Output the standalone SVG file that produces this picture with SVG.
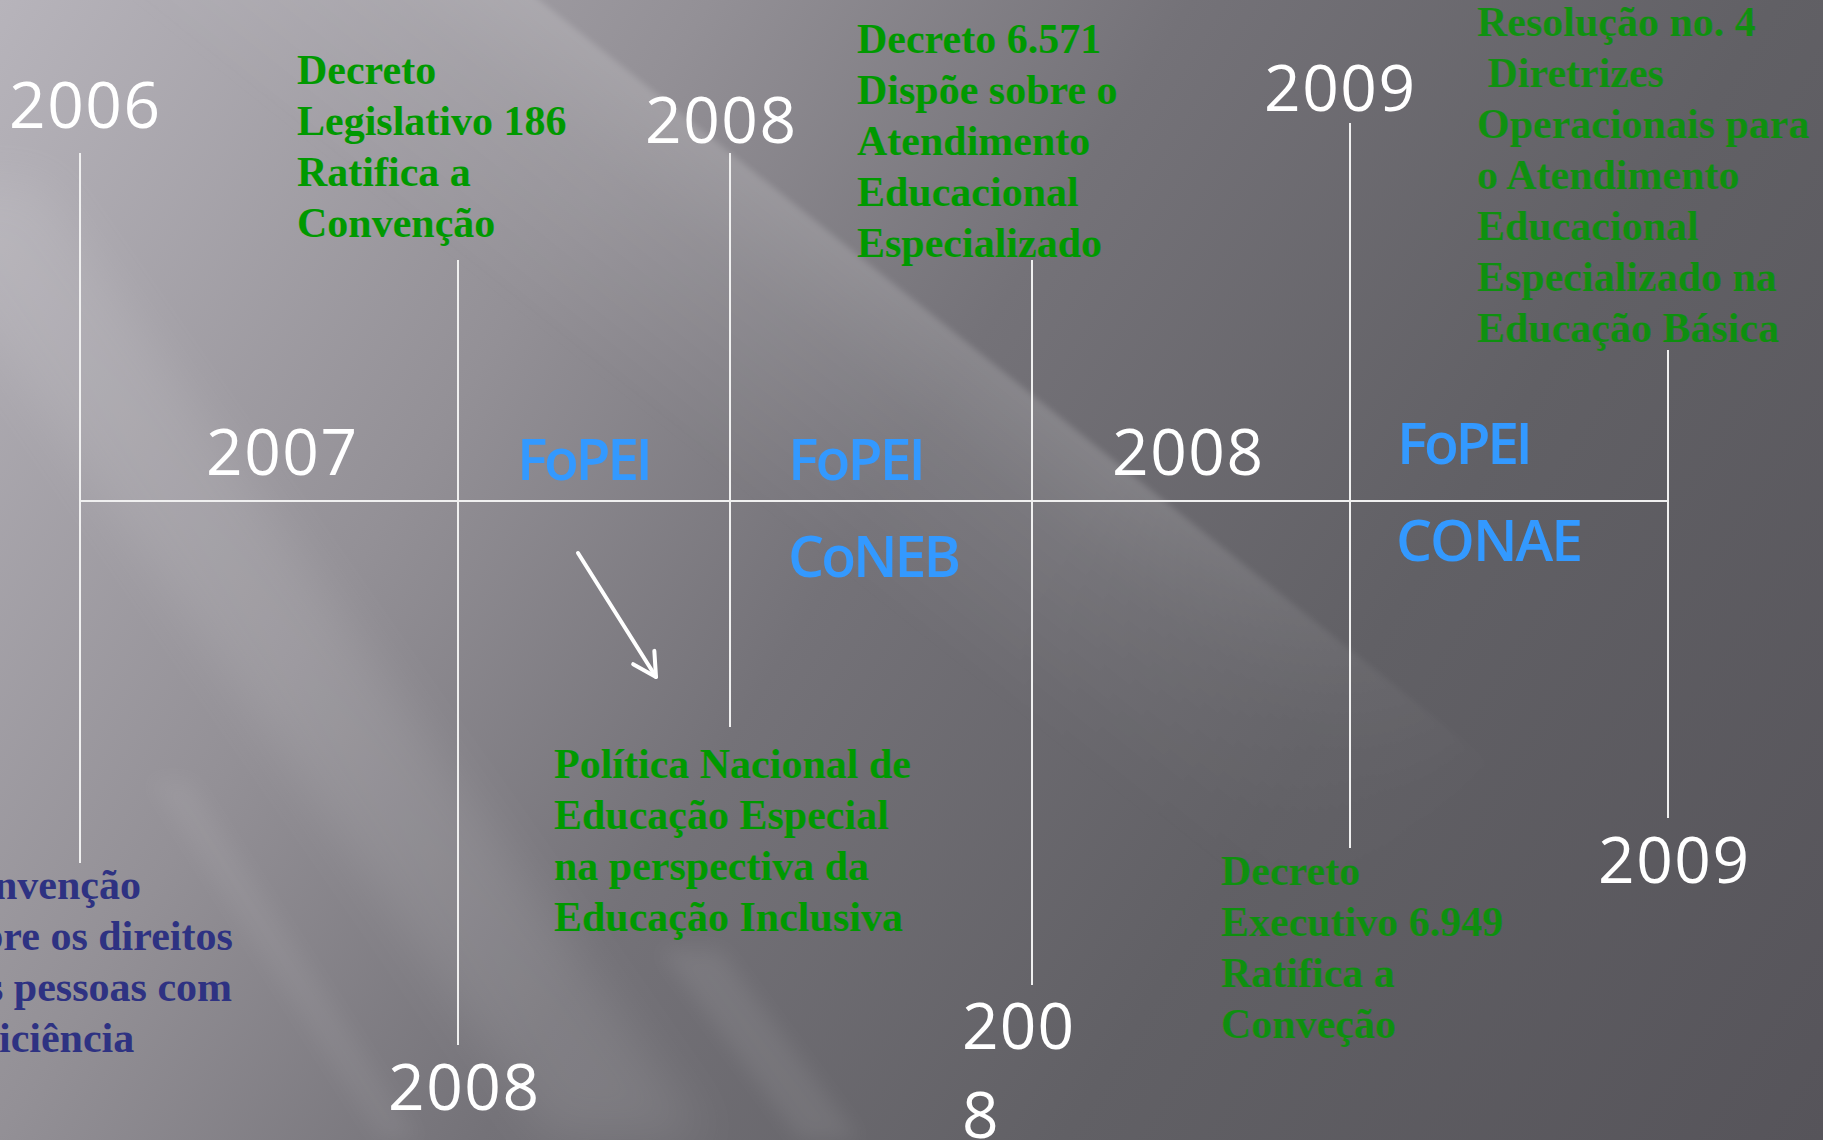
<svg xmlns="http://www.w3.org/2000/svg" width="1823" height="1140" viewBox="0 0 1823 1140">
<defs>
<style>
.yr{font-family:"Open Sans","Noto Sans",sans-serif;font-size:64px;fill:#ffffff}
.bl{font-family:"Open Sans","Noto Sans",sans-serif;font-size:57px;font-weight:600;fill:#3399ff}
.gr{font-family:"Liberation Serif","Times New Roman",serif;font-size:42px;font-weight:bold;fill:#009900}
.gr2{font-family:"Liberation Serif","Times New Roman",serif;font-size:42px;font-weight:bold;fill:#009900;fill-opacity:0.85}
.nv{font-family:"Liberation Serif","Times New Roman",serif;font-size:42px;font-weight:bold;fill:#2e3282}
.ln{stroke:#f0f0f0;stroke-width:2;fill:none}
.arr{stroke:#ffffff;stroke-width:4;fill:none;stroke-linecap:round}
</style>
<linearGradient id="bg" gradientUnits="userSpaceOnUse" x1="0" y1="0" x2="1823" y2="1140">
<stop offset="0" stop-color="#b7b4bb"/>
<stop offset="0.28" stop-color="#939096"/>
<stop offset="0.47" stop-color="#747278"/>
<stop offset="0.7" stop-color="#616065"/>
<stop offset="1" stop-color="#56545a"/>
</linearGradient>
<linearGradient id="bandB" gradientUnits="userSpaceOnUse" x1="995" y1="365" x2="832" y2="568">
<stop offset="0" stop-color="#ffffff" stop-opacity="0.16"/>
<stop offset="0.35" stop-color="#ffffff" stop-opacity="0.08"/>
<stop offset="1" stop-color="#ffffff" stop-opacity="0"/>
</linearGradient>
<linearGradient id="bandFade" gradientUnits="userSpaceOnUse" x1="1120" y1="470" x2="1500" y2="775">
<stop offset="0" stop-color="#ffffff"/>
<stop offset="1" stop-color="#000000"/>
</linearGradient>
<mask id="bandMask" maskUnits="userSpaceOnUse" x="0" y="0" width="1823" height="1140">
<rect x="0" y="0" width="1823" height="1140" fill="url(#bandFade)"/>
</mask>
<filter id="soft" x="-50%" y="-50%" width="200%" height="200%"><feGaussianBlur stdDeviation="25"/></filter>
<filter id="edge" x="-20%" y="-20%" width="140%" height="140%"><feGaussianBlur stdDeviation="3"/></filter>
<filter id="soft2" x="-50%" y="-50%" width="200%" height="200%"><feGaussianBlur stdDeviation="10"/></filter>
<marker id="openArrow" markerUnits="userSpaceOnUse" markerWidth="32" markerHeight="32" viewBox="-28 -16 32 32" refX="0" refY="0" orient="auto">
<path d="M -23 -12.5 L 0 0 L -23 12.5" stroke="#ffffff" stroke-width="4" fill="none" stroke-linecap="round" stroke-linejoin="round"/>
</marker>
</defs>

<g id="background">
<rect x="0" y="0" width="1823" height="1140" fill="url(#bg)"/>
<polygon points="-120,180 40,180 710,1140 550,1140" fill="#ffffff" opacity="0.09" filter="url(#soft)"/>
<g mask="url(#bandMask)">
<polygon points="290,-200 1600,850 1437,1053 127,3" fill="url(#bandB)" filter="url(#edge)"/>
</g>
<polygon points="150,780 190,780 420,1140 380,1140" fill="#ffffff" opacity="0.05" filter="url(#soft2)"/>
<polygon points="660,950 720,950 860,1140 800,1140" fill="#ffffff" opacity="0.07" filter="url(#soft2)"/>
</g>

<g id="connectors">
<line class="ln" x1="80" y1="501" x2="1668" y2="501" stroke-width="2.5"/>
<line class="ln" x1="80" y1="153" x2="80" y2="863"/>
<line class="ln" x1="458" y1="260" x2="458" y2="1045"/>
<line class="ln" x1="730" y1="153" x2="730" y2="727"/>
<line class="ln" x1="1032" y1="260" x2="1032" y2="985"/>
<line class="ln" x1="1350" y1="123" x2="1350" y2="848"/>
<line class="ln" x1="1668" y1="350" x2="1668" y2="818"/>
<line class="arr" x1="578" y1="553" x2="656" y2="677" marker-end="url(#openArrow)"/>
</g>

<g id="year-2006"><text class="yr" x="9" y="128" textLength="151">2006</text></g>
<g id="year-2007"><text class="yr" x="206" y="475" textLength="151">2007</text></g>
<g id="year-2008-top"><text class="yr" x="645" y="143" textLength="151">2008</text></g>
<g id="year-2009-top"><text class="yr" x="1264" y="111" textLength="151">2009</text></g>
<g id="year-2008-mid"><text class="yr" x="1112" y="475" textLength="151">2008</text></g>
<g id="year-2008-bottom"><text class="yr" x="388" y="1110" textLength="151">2008</text></g>
<g id="year-2008-split"><text class="yr"><tspan x="962" y="1049" textLength="112">200</tspan><tspan x="962" y="1138">8</tspan></text></g>
<g id="year-2009-bottom"><text class="yr" x="1598" y="883" textLength="151">2009</text></g>

<g id="fopei-1"><text class="bl" x="517" y="480" textLength="136">FoPEI</text></g>
<g id="fopei-2"><text class="bl" x="788" y="480" textLength="138">FoPEI</text></g>
<g id="coneb"><text class="bl" x="788" y="577" textLength="173">CoNEB</text></g>
<g id="fopei-3"><text class="bl" x="1397" y="464" textLength="136">FoPEI</text></g>
<g id="conae"><text class="bl" x="1396" y="561" textLength="187">CONAE</text></g>

<g id="decreto-legislativo">
<text class="gr"><tspan x="297" y="84">Decreto</tspan><tspan x="297" y="135">Legislativo 186</tspan><tspan x="297" y="186">Ratifica a</tspan><tspan x="297" y="237">Convenção</tspan></text>
</g>

<g id="decreto-6571">
<text class="gr"><tspan x="857" y="53">Decreto 6.571</tspan><tspan x="857" y="104">Dispõe sobre o</tspan><tspan x="857" y="155">Atendimento</tspan><tspan x="857" y="206">Educacional</tspan><tspan x="857" y="257">Especializado</tspan></text>
</g>

<g id="resolucao-4">
<text class="gr2" xml:space="preserve"><tspan x="1477" y="36">Resolução no. 4</tspan><tspan x="1477" y="87"> Diretrizes</tspan><tspan x="1477" y="138">Operacionais para</tspan><tspan x="1477" y="189">o Atendimento</tspan><tspan x="1477" y="240">Educacional</tspan><tspan x="1477" y="291">Especializado na</tspan><tspan x="1477" y="342">Educação Básica</tspan></text>
</g>

<g id="politica-nacional">
<text class="gr"><tspan x="554" y="778">Política Nacional de</tspan><tspan x="554" y="829">Educação Especial</tspan><tspan x="554" y="880">na perspectiva da</tspan><tspan x="554" y="931">Educação Inclusiva</tspan></text>
</g>

<g id="decreto-executivo">
<text class="gr2"><tspan x="1221" y="885">Decreto</tspan><tspan x="1221" y="936">Executivo 6.949</tspan><tspan x="1221" y="987">Ratifica a</tspan><tspan x="1221" y="1038">Conveção</tspan></text>
</g>

<g id="convencao">
<text class="nv"><tspan x="-6" y="899">nvenção</tspan><tspan x="-20" y="950">bre os direitos</tspan><tspan x="-13" y="1001">s pessoas com</tspan><tspan x="-1" y="1052">iciência</tspan></text>
</g>
</svg>
